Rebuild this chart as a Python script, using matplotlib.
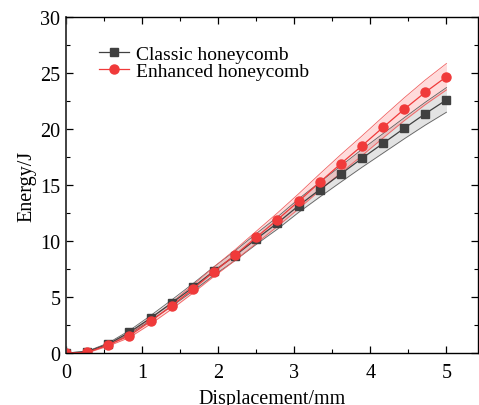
import matplotlib
matplotlib.use("Agg")
import matplotlib.pyplot as plt
from matplotlib.ticker import MultipleLocator

plt.rcParams['font.family'] = ['Liberation Serif', 'DejaVu Serif']
plt.rcParams['mathtext.fontset'] = 'stix'

displacement = [0.0, 0.278, 0.556, 0.833, 1.111, 1.389, 1.667, 1.944, 2.222, 2.5,
                2.778, 3.056, 3.333, 3.611, 3.889, 4.167, 4.444, 4.722, 5.0]
classic = [0, 0.12, 0.8, 1.85, 3.12, 4.46, 5.86, 7.32, 8.7, 10.18,
           11.6, 13.15, 14.58, 15.98, 17.38, 18.72, 20.06, 21.37, 22.6]
enhanced = [0, 0.05, 0.72, 1.55, 2.83, 4.22, 5.71, 7.26, 8.75, 10.33,
            11.9, 13.54, 15.24, 16.9, 18.5, 20.15, 21.76, 23.28, 24.67]
classic_err = [0, 0.04, 0.1, 0.16, 0.22, 0.28, 0.33, 0.38, 0.43, 0.48,
               0.54, 0.6, 0.66, 0.72, 0.8, 0.87, 0.94, 1.02, 1.1]
enhanced_err = [0, 0.04, 0.1, 0.17, 0.24, 0.3, 0.36, 0.42, 0.48, 0.54,
                0.6, 0.67, 0.74, 0.81, 0.88, 0.95, 1.02, 1.1, 1.18]

labels = ["Classic honeycomb", "Enhanced honeycomb"]
xticks = [0, 1, 2, 3, 4, 5]
yticks = [0, 5, 10, 15, 20, 25, 30]

fig = plt.figure(figsize=(4.79, 4.06), dpi=100)
ax = fig.add_axes([0.1378, 0.128, 0.861, 0.8277])

gray = '#404040'
red = '#f03a3a'

c_lo = [v - e for v, e in zip(classic, classic_err)]
c_hi = [v + e for v, e in zip(classic, classic_err)]
e_lo = [v - e for v, e in zip(enhanced, enhanced_err)]
e_hi = [v + e for v, e in zip(enhanced, enhanced_err)]

ax.fill_between(displacement, c_lo, c_hi, color='#808080', alpha=0.22, lw=0)
ax.plot(displacement, c_lo, color='#606060', lw=0.6)
ax.plot(displacement, c_hi, color='#606060', lw=0.6)
ax.fill_between(displacement, e_lo, e_hi, color='#ff2020', alpha=0.16, lw=0)
ax.plot(displacement, e_lo, color='#f06060', lw=0.6)
ax.plot(displacement, e_hi, color='#f06060', lw=0.6)

ax.plot(displacement, classic, color=gray, lw=0.9, marker='s', ms=5.5,
        mfc=gray, mec=gray, label=labels[0])
ax.plot(displacement, enhanced, color=red, lw=0.9, marker='o', ms=6.5,
        mfc=red, mec=red, label=labels[1])

ax.set_xlim(0, 5.42)
ax.set_ylim(0, 30)
ax.set_xticks(xticks)
ax.set_yticks(yticks)
ax.xaxis.set_minor_locator(MultipleLocator(0.5))
ax.yaxis.set_minor_locator(MultipleLocator(2.5))
ax.tick_params(which='both', direction='in', top=True, right=True,
               labelsize=14.5, labelright=False, labeltop=False)
ax.tick_params(which='major', length=5, width=0.9)
ax.tick_params(which='minor', length=3, width=0.8)
ax.tick_params(axis='x', which='major', pad=7)
ax.tick_params(axis='y', which='major', pad=4)
for s in ax.spines.values():
    s.set_linewidth(1.0)
ax.spines['left'].set_color('#333333')
ax.spines['left'].set_linewidth(1.3)

ax.set_xlabel("Displacement/mm", fontsize=14.5, labelpad=5)
ax.set_ylabel("Energy/J", fontsize=14.5, labelpad=3)

ax.legend(loc='upper left', bbox_to_anchor=(0.062, 0.94), frameon=False,
          fontsize=14, handlelength=1.5, handletextpad=0.4, labelspacing=0.0,
          borderaxespad=0.0)

fig.savefig("out.png", dpi=100)
